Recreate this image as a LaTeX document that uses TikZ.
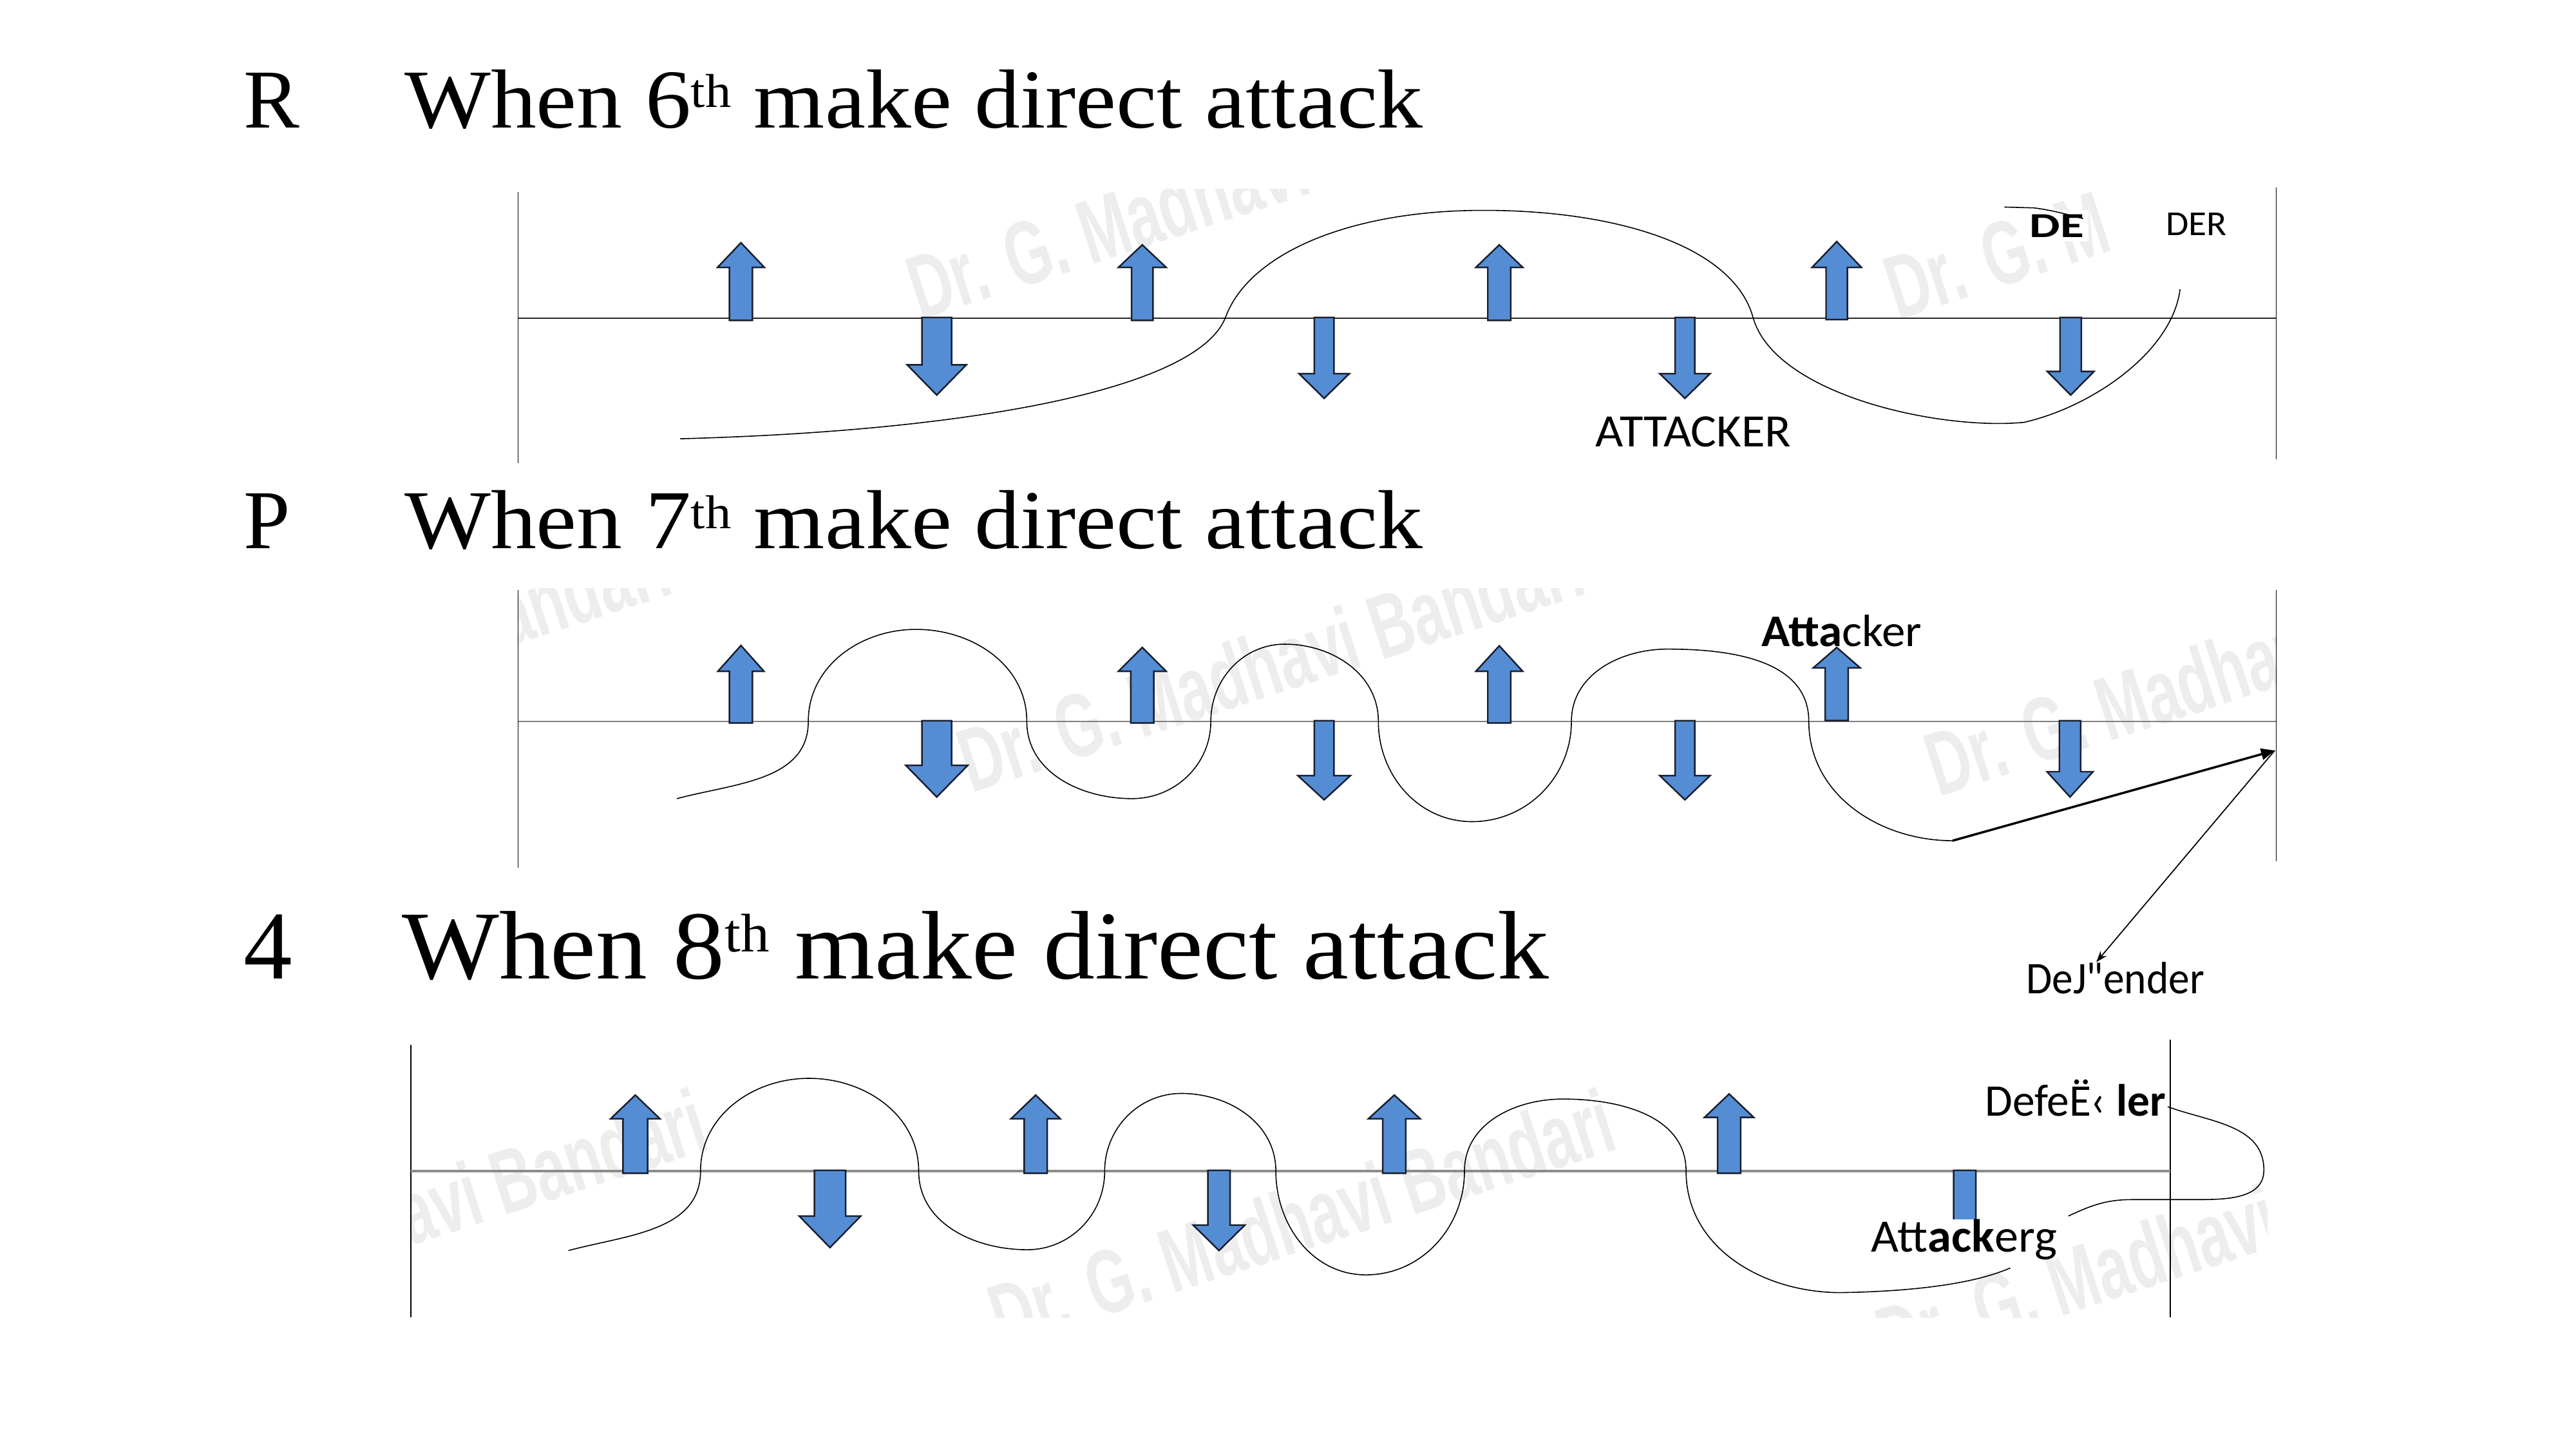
\documentclass[tikz,border=0pt]{standalone}
\usepackage{fontspec}
\setmainfont{Liberation Serif}
\newfontfamily\lblfont{Carlito}
\newfontfamily\wmfont{Liberation Sans}
\usetikzlibrary{arrows.meta}
\definecolor{arrblue}{RGB}{84,141,212}
\definecolor{arrline}{RGB}{25,30,45}
\definecolor{wmgray}{RGB}{237,237,237}
\newcommand\fitw[2]{\resizebox{#1}{\height}{#2}}
% x, y of base, y of head base, y of tip, head half width, shaft half width
\newcommand\bluearrow[6]{%
  \filldraw[arrowbody] (#1-#6,#2) -- (#1-#6,#3) -- (#1-#5,#3) -- (#1,#4) -- (#1+#5,#3) -- (#1+#6,#3) -- (#1+#6,#2) -- cycle;}
\newcommand\wmtext[1]{\scalebox{0.65}[1]{#1}}
\begin{document}
\begin{tikzpicture}[x=0.025510cm,y=0.025510cm,
  ttl/.style={anchor=base west, inner sep=0pt},
  lbl/.style={anchor=base west, inner sep=0pt, font=\lblfont},
  wm/.style={anchor=base west, inner sep=0pt, text=wmgray, rotate=18,
    font={\wmfont\bfseries\fontsize{40}{40}\selectfont}},
  arrowbody/.style={fill=arrblue, draw=arrline, line width=0.7pt, line join=miter},
  frame/.style={black, line width=0.45pt},
  wave/.style={black, line width=0.45pt},
  base1/.style={black!85, line width=0.75pt},
  base2/.style={black!50, line width=0.5pt},
  base3/.style={black!45, line width=1pt}]
\useasboundingbox (0,0) rectangle (1568,-882);

% ---------- watermarks ----------
\begin{scope}
  \clip (315,-115) rectangle (1386,-282);
  \node[wm] (wm1) at (560,-195) {\wmtext{Dr. G. Madhavi Bandari}};
  \node[wm] (wm2) at (1155,-195) {\wmtext{Dr. G. M}};
\end{scope}
\begin{scope}
  \clip (315,-358) rectangle (1386,-528);
  \node[wm] (wm3) at (35,-483) {\wmtext{Dr. G. Madhavi Bandari}};
  \node[wm] (wm4) at (591,-483) {\wmtext{Dr. G. Madhavi Bandari}};
  \node[wm] (wm5) at (1180,-485) {\wmtext{Dr. G. Madhavi}};
\end{scope}
\begin{scope}
  \clip (250,-632) rectangle (1380,-802);
  \node[wm] (wm6) at (57,-821) {\wmtext{Dr. G. Madhavi Bandari}};
  \node[wm] (wm7) at (610,-821) {\wmtext{Dr. G. Madhavi Bandari}};
  \node[wm] (wm8) at (1150,-835) {\wmtext{Dr. G. Madhavi B}};
\end{scope}

% ---------- titles ----------
\node[ttl, font={\fontsize{37}{40}\selectfont}] (r1) at (148,-77.7) {R};
\node[ttl] (h1) at (246,-77.7) {\fitw{450pt}{\fontsize{37}{40}\selectfont When 6\raisebox{9pt}{\fontsize{21}{21}\selectfont th} make direct attack}};
\node[ttl, font={\fontsize{37}{40}\selectfont}] (r2) at (148,-333.9) {P};
\node[ttl] (h2) at (246,-333.9) {\fitw{450pt}{\fontsize{37}{40}\selectfont When 7\raisebox{9pt}{\fontsize{21}{21}\selectfont th} make direct attack}};
\node[ttl, font={\fontsize{43}{46}\selectfont}] (r3) at (148.2,-595.8) {4};
\node[ttl] (h3) at (244.5,-595.8) {\fitw{506.6pt}{\fontsize{43}{46}\selectfont When 8\raisebox{12pt}{\fontsize{24}{24}\selectfont th} make direct attack}};

% ---------- panel 1 ----------
\draw[frame] (315.4,-117) -- (315.4,-282);
\draw[frame] (1385.5,-114) -- (1385.5,-279.6);
\draw[base1] (315.4,-193.7) -- (1385.5,-193.7);
\draw[wave] (414,-267) .. controls (600,-262) and (730,-235) .. (746,-193)
  .. controls (760,-155) and (820,-128) .. (903,-128)
  .. controls (985,-128) and (1055,-150) .. (1067,-193)
  .. controls (1080,-240) and (1180,-262) .. (1232,-257)
  .. controls (1272,-248) and (1322,-215) .. (1327,-176);
\node[lbl] (atk1) at (971,-271.8) {\fitw{86.4pt}{\fontsize{20.5}{22}\selectfont ATTACKER}};
\node[lbl, fill=white, inner sep=2pt] (de1) at (1232.5,-144.4) {\fitw{24pt}{\fontsize{15.5}{17}\selectfont\bfseries DE}};
\node[lbl, fill=white, inner sep=2pt] (der1) at (1315.4,-143.1) {\fitw{26.9pt}{\fontsize{15.5}{17}\selectfont DER}};
\draw[wave] (1220,-126) -- (1238,-126.5) .. controls (1250,-128) and (1260,-131) .. (1268,-133);
\bluearrow{451}{-195}{-162.7}{-147.7}{14.25}{7}
\bluearrow{570.2}{-193.2}{-222}{-240.4}{18}{9}
\bluearrow{695.3}{-195}{-162.7}{-149}{14.5}{6.5}
\bluearrow{806}{-193.2}{-227.4}{-242.4}{15.3}{6}
\bluearrow{912.6}{-195}{-162.7}{-149}{14.25}{7}
\bluearrow{1025.6}{-193.2}{-227.4}{-242.4}{15.3}{6}
\bluearrow{1118}{-194.5}{-162.7}{-147}{15}{6.5}
\bluearrow{1260.4}{-193.2}{-226}{-240.4}{14.25}{6.5}

% ---------- panel 2 ----------
\draw[frame] (315.4,-359) -- (315.4,-528);
\draw[frame] (1385.5,-359) -- (1385.5,-524);
\draw[base2] (315.4,-439) -- (1385.5,-439);
\draw[wave] (412,-486) to[out=15,in=-90] (492,-439) to[out=90,in=180] (557.6,-383)
  to[out=0,in=90] (625,-439) to[out=-90,in=180] (689,-486)
  to[out=0,in=-90] (737,-439) to[out=90,in=180] (782,-392)
  to[out=0,in=90] (839,-439) to[out=-90,in=180] (896,-500)
  to[out=0,in=-90] (956.5,-439) to[out=90,in=180] (1015,-395)
  to[out=0,in=90] (1101,-439) to[out=-90,in=180] (1188.5,-511.6);
\coordinate (trough2) at (1188.5,-511.6);
\coordinate (dtip) at (1384.6,-456.7);
\coordinate (dend) at (1276,-585.5);
\draw[black, line width=1pt, -{Triangle[length=6pt,width=5pt]}] (trough2) -- (dtip);
\draw[black, line width=0.5pt, -{Stealth[length=5pt,width=3.5pt]}] (dtip) -- (dend);
\node[lbl] (atk2) at (1072,-393.3) {\fitw{70.8pt}{\fontsize{20}{22}\selectfont\textbf{Atta}cker}};
\node[lbl] (def2) at (1233,-604.5) {\fitw{78.8pt}{\fontsize{20}{22}\selectfont DeJ"ender}};
\bluearrow{451}{-440}{-408.5}{-392.8}{14}{7}
\bluearrow{570.2}{-438.6}{-465.7}{-485}{18.9}{9}
\bluearrow{695.3}{-440}{-408.5}{-394}{14.5}{7}
\bluearrow{806}{-438.6}{-472}{-486.7}{16}{6}
\bluearrow{912.6}{-440}{-408.5}{-393}{14.25}{7}
\bluearrow{1025.6}{-438.6}{-472}{-486.7}{15.3}{6}
\bluearrow{1118}{-438.5}{-406.4}{-394}{14.25}{7}
\bluearrow{1260}{-438.6}{-469.6}{-485}{14}{6.5}

% ---------- panel 3 ----------
\draw[frame] (250,-635.7) -- (250,-801.7);
\draw[frame] (1321,-632.5) -- (1321,-801.7);
\draw[base3] (250,-712.7) -- (1321,-712.7);
\draw[wave] (346,-761) to[out=15,in=-90] (426.4,-712.7) to[out=90,in=180] (492.4,-656.2)
  to[out=0,in=90] (559.2,-712.7) to[out=-90,in=180] (625.2,-760.5)
  to[out=0,in=-90] (672.4,-712.7) to[out=90,in=180] (719,-665.4)
  to[out=0,in=90] (776.6,-712.7) to[out=-90,in=180] (831.4,-775.8)
  to[out=0,in=-90] (891.4,-712.7) to[out=90,in=180] (951.4,-668.8)
  to[out=0,in=90] (1026.3,-712.7) to[out=-90,in=180] (1120.2,-786.6)
  .. controls (1160,-786) and (1200,-782) .. (1223.6,-771.6);
\node[lbl] (def3) at (1208,-679) {\fitw{79.8pt}{\fontsize{20}{22}\selectfont DefeË‹ \textbf{ler}}};
\coordinate (loopstart) at (1319.5,-673.5);
\draw[wave] (loopstart) to[out=-20,in=90] (1378,-712) to[out=-90,in=0] (1334,-730)
  -- (1298,-730) to[out=180,in=25] (1259,-740);
\bluearrow{386.7}{-714}{-680.8}{-666.4}{15}{7.5}
\bluearrow{505.2}{-712.2}{-740}{-759.2}{18.75}{9.5}
\bluearrow{630.4}{-714}{-680.8}{-666.4}{15}{7}
\bluearrow{742}{-712.2}{-745.5}{-761}{15.75}{6.75}
\bluearrow{848.7}{-714}{-680.8}{-666.4}{15.75}{7}
\bluearrow{1052.5}{-714}{-680}{-665.7}{15}{7}
\bluearrow{1195.9}{-712.2}{-743}{-758}{15}{6.75}
\node[lbl, fill=white] (atk3) at (1138.8,-762) {\fitw{82pt}{\fontsize{20.5}{22}\selectfont Att\textbf{ack}erg}};
\end{tikzpicture}
\end{document}
